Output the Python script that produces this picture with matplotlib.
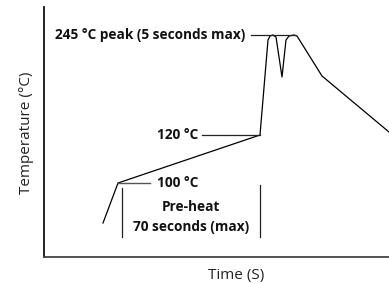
import matplotlib.pyplot as plt

plt.rcParams['font.family'] = ['Open Sans', 'DejaVu Sans']

# reflow profile (schematic units)
time_s = [59, 74, 216, 224, 226, 229, 232, 238, 242, 245, 250, 253, 278, 345]
temp = [34, 74, 122, 217, 221, 222, 220, 180, 217, 221, 222, 221, 181, 125]

peak_level = 222
soak_end_level = 122
soak_start_level = 74
preheat_start = 78
preheat_end = 216

fig = plt.figure(figsize=(3.89, 2.84), dpi=100)
ax = fig.add_axes([44 / 389, 27 / 284, 345 / 389, 250 / 284])
ax.set_xlim(0, 345)
ax.set_ylim(0, 250)

# profile curve
ax.plot(time_s, temp, color='black', lw=0.9, clip_on=False)

# leader lines
ax.plot([207, 251], [peak_level, peak_level], color='#222222', lw=0.9)
ax.plot([158, preheat_end], [soak_end_level, soak_end_level], color='#222222', lw=0.9)
ax.plot([74, 106], [soak_start_level, soak_start_level], color='#555555', lw=1.0)
ax.plot([preheat_start, preheat_start], [20, 69], color='#222222', lw=0.9)
ax.plot([preheat_end, preheat_end], [20, 72], color='#222222', lw=0.9)

# labels
bold = dict(fontsize=9.8, fontweight='bold', color='#111111')
ax.text(201, peak_level, '245 °C peak (5 seconds max)', ha='right', va='center', **bold)
ax.text(154, soak_end_level, '120 °C', ha='right', va='center', **bold)
ax.text(113, soak_start_level, '100 °C', ha='left', va='center', **bold)
ax.text(147, 50, 'Pre-heat', ha='center', va='center', **bold)
ax.text(147, 30, '70 seconds (max)', ha='center', va='center', **bold)

fig.text(236 / 389, 1 - 275 / 284, 'Time (S)', fontsize=11, ha='center', va='center', color='#222222')
fig.text(27 / 389, 1 - 133 / 284, 'Temperature (°C)', fontsize=11, rotation=90,
         ha='center', va='center', color='#222222')

ax.set_xticks([])
ax.set_yticks([])
for s in ['top', 'right']:
    ax.spines[s].set_visible(False)
ax.spines['left'].set_linewidth(1.3)
ax.spines['left'].set_color('#111111')
ax.spines['bottom'].set_linewidth(1.3)
ax.spines['bottom'].set_color('#444444')

fig.savefig('out.png', dpi=100)
